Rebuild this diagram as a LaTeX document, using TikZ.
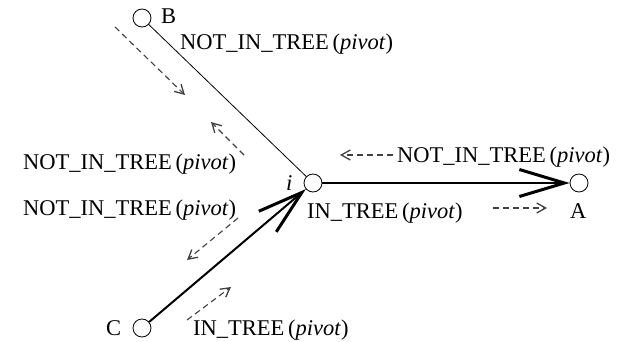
\documentclass[tikz,border=0pt]{standalone}
\usepackage{fontspec}
\setmainfont{Liberation Serif}
\usetikzlibrary{arrows.meta}
\newcommand{\notintreelbl}{NOT\_IN\_TREE\,(\textit{pivot})}
\newcommand{\intreelbl}{IN\_TREE\,(\textit{pivot})}

\begin{document}
\begin{tikzpicture}[
  x=1pt, y=-1pt,
  vertex/.style={circle, draw, thick, fill=white, minimum size=18pt, inner sep=0pt},
  lbl/.style={anchor=base west, inner sep=0pt, font=\fontsize{22.5}{26}\selectfont},
  treeedge/.style={line width=2pt, -{Straight Barb[length=45pt, width=27pt, line width=3pt]}},
  plainedge/.style={line width=0.8pt},
  msg/.style={dashed, dash pattern=on 6pt off 4pt, line width=1.1pt, black!75, -{Straight Barb[length=9pt, width=10pt, line width=1.3pt]}}
]
\useasboundingbox (0,0) rectangle (624,342);

\node[vertex] (B) at (142,18) {};
\node[vertex] (i) at (313,183) {};
\node[vertex] (A) at (579,183) {};
\node[vertex] (C) at (142,328) {};

\draw[plainedge] (B) -- (i);
\draw[treeedge] (i) -- (A);
\draw[treeedge] (C) -- (i);

\node[lbl] (lB) at (161,24) {B};
\node[lbl] (lA) at (570,218) {A};
\node[lbl] (lC) at (106,335) {C};
\node[lbl] (li) at (286,190) {\textit{i}};

\node[lbl] (msgB) at (180,50) {\notintreelbl};
\node[lbl] (msgL1) at (23,170) {\notintreelbl};
\node[lbl] (msgL2) at (23,215) {\notintreelbl};
\node[lbl] (msgA) at (397,163) {\notintreelbl};
\node[lbl] (msgi) at (307,218) {\intreelbl};
\node[lbl] (msgC) at (193,335) {\intreelbl};

% message arrows
\coordinate (b1) at (115,27);  \coordinate (b2) at (185,95);
\coordinate (b3) at (244,155); \coordinate (b4) at (211,122);
\coordinate (a1) at (393,155); \coordinate (a2) at (340,155);
\coordinate (a3) at (493,208); \coordinate (a4) at (547,208);
\coordinate (c1) at (238,218); \coordinate (c2) at (187,260);
\coordinate (c3) at (187,320); \coordinate (c4) at (231,287);

\draw[msg] (b1) -- (b2);
\draw[msg] (b3) -- (b4);
\draw[msg] (a1) -- (a2);
\draw[msg] (a3) -- (a4);
\draw[msg] (c1) -- (c2);
\draw[msg] (c3) -- (c4);
\end{tikzpicture}
\end{document}
